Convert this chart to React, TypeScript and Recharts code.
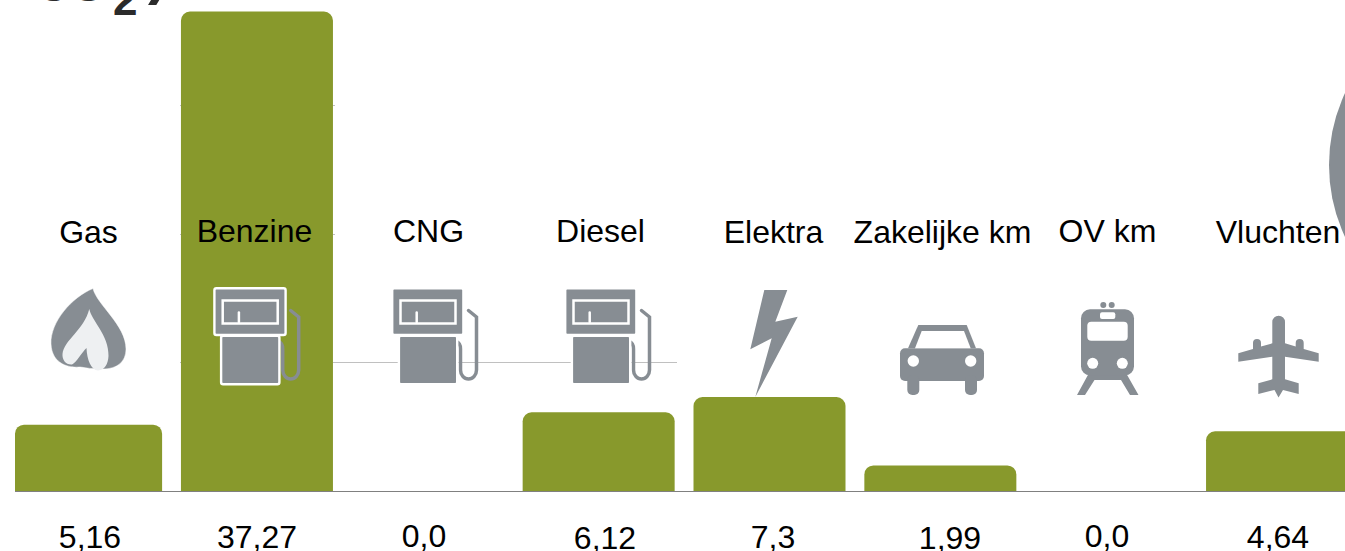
import React from "react";
import { BarChart, Bar, XAxis, YAxis, LabelList, ReferenceLine, Rectangle } from "recharts";

const categories = ["Gas", "Benzine", "CNG", "Diesel", "Elektra", "Zakelijke km", "OV km", "Vluchten"];
const co2Values = [5.16, 37.27, 0.0, 6.12, 7.3, 1.99, 0.0, 4.64];
const valueLabels = ["5,16", "37,27", "0,0", "6,12", "7,3", "1,99", "0,0", "4,64"];
const gridValues = [10, 20, 30];

const data = categories.map((name, i) => ({ name, co2: co2Values[i], label: valueLabels[i], idx: i }));

// Hand-placed text in the source picture: absolute centre and baseline of every caption
const nameX = [88.5, 254.5, 428.5, 600.5, 773.5, 942.5, 1107.5, 1278];
const nameY = [243, 242, 242, 242, 243, 243, 242, 243];
const valX = [90, 257, 424, 605, 773, 950, 1107, 1278];
const valY = [548, 548, 547, 549, 548, 549, 547, 548];
// The grid shows only beside the tall bar and up to the Diesel icon
const gridSegments = [
  [[180, 181], [333, 677]],
  [[180, 181], [333, 335]],
  [[180, 181], [333, 335]],
];

const BAR = "#88992c";
const GREY = "#878d93";
const FONT = "'Liberation Sans', Arial, sans-serif";

const Pump = ({ dx }: { dx: number }) => (
  <g transform={`translate(${dx} 0)`}>
    <path d="M468.5 310.5 L476.5 317 L476.5 370 A8 9 0 0 1 460.5 370 L460.5 349 Q460.5 343 456 341.5" fill="none" stroke={GREY} strokeWidth={3.5} strokeLinecap="round" />
    <rect x={398.9} y={335.7} width={58.3} height={48.5} rx={2} fill={GREY} stroke="#fff" strokeWidth={2.4} />
    <rect x={392.2} y={288.3} width={71.2} height={46.7} rx={2} fill={GREY} stroke="#fff" strokeWidth={2.4} />
    <rect x={400.5} y={300.5} width={55} height={23} fill="none" stroke="#fff" strokeWidth={2.5} />
    <path d="M416.7 312.5 V322" stroke="#fff" strokeWidth={2.5} strokeLinecap="round" />
  </g>
);

const Flame = () => (
  <g>
    <path d="M93 288.5 C97 305 126 325 126 349 C126 362 117 369 103 369 C90 369 88 368 80 367 C70 368 52 365 51 344 C50 322 72 297 93 288.5 Z" fill={GREY} stroke="#fff" strokeWidth={0.5} />
    <path d="M89.3 309 C91 320 109 335 108.5 356 C108 364 105 370 98 370.5 C91 370 87 360 86.5 348 C82 352 77 362 72 364.5 C66 365 62 360 62.5 354 C64 340 84 330 89.3 309 Z" fill="#eef0f2" />
  </g>
);

const Bolt = () => <path d="M764.3 290 L787.3 290 L775.3 321.7 L797.7 316.7 L755.3 397 L771.7 338.3 L750.3 349.3 Z" fill={GREY} />;

const Car = () => (
  <g fill={GREY}>
    <path d="M918.3 325 L966.7 325 L976 348.3 L908 348.3 Z" />
    <rect x={900} y={348.3} width={84} height={32.7} rx={5} />
    <rect x={907.3} y={375} width={12} height={20} rx={5} />
    <rect x={965} y={375} width={12} height={20} rx={5} />
    <path d="M921.7 331 L964 331 L970.7 348.3 L915 348.3 Z" fill="#fff" />
    <circle cx={913.3} cy={361} r={5.7} fill="#fff" />
    <circle cx={970.7} cy={361} r={5.7} fill="#fff" />
  </g>
);

const Train = () => (
  <g fill={GREY}>
    <circle cx={1103.3} cy={305} r={3} />
    <circle cx={1111.7} cy={305} r={3} />
    <path d="M1089 373 L1077 395 L1085 395 L1094.5 380 L1121 380 L1130 395 L1138.5 395 L1126 373 Z" />
    <rect x={1081} y={309.3} width={53} height={66} rx={9} />
    <rect x={1100} y={312.3} width={15.3} height={6.7} rx={2} fill="#fff" />
    <rect x={1087.3} y={321.7} width={40.4} height={19} rx={4} fill="#fff" />
    <circle cx={1092.7} cy={363.3} r={5.5} fill="#fff" />
    <circle cx={1122.3} cy={363.3} r={5.5} fill="#fff" />
  </g>
);

const Plane = () => (
  <g fill={GREY}>
    <path d="M1272.3 322 A6.3 6.3 0 0 1 1285 322 L1285 343.3 L1295.7 346.5 L1295.7 343 A4 4 0 0 1 1303.7 343 L1303.7 349 L1318.7 353.3 L1318.7 361.7 L1285 356.7 L1285 379.3 L1298.7 383.3 L1298.7 394 L1283 390 L1278.5 397.5 L1274.5 390 L1258.3 394 L1258.3 383.3 L1272.3 379.3 L1272.3 356.7 L1238.3 361.7 L1238.3 353.3 L1253 349 L1253 343 A4 4 0 0 1 1261 343 L1261 346.5 L1272.3 343.3 Z" />
  </g>
);

const icons = [<Flame />, <Pump dx={-177.8} />, <Pump dx={0} />, <Pump dx={173} />, <Bolt />, <Car />, <Train />, <Plane />];

const BarShape = (p: any) => {
  if (!p.height) return null;
  const left = Math.max(p.x, 15);
  return <Rectangle x={left} y={p.y} width={p.x + p.width - left} height={p.height} radius={[9, 9, 0, 0]} fill={BAR} />;
};

const NameLabel = (p: any) => (
  <text x={nameX[p.index]} y={nameY[p.index]} textAnchor="middle" fontFamily={FONT} fontSize={32} fill="#000">{p.value}</text>
);
const ValueLabel = (p: any) => (
  <text x={valX[p.index]} y={valY[p.index]} textAnchor="middle" fontFamily={FONT} fontSize={32} fill="#000">{p.value}</text>
);
const IconLabel = (p: any) => icons[p.index];

const GridSeg = (i: number) => (p: any) => {
  const y = Math.round(p.y1) + 0.5;
  return (
    <g>
      {gridSegments[i].map(([a, b]) => (
        <line key={a} x1={a} x2={b} y1={y} y2={y} stroke="#c0c0c0" strokeWidth={1} />
      ))}
    </g>
  );
};

export default function App() {
  return (
    <div style={{ position: "absolute", left: 0, top: 0, width: 1345, height: 551, overflow: "hidden", background: "#fff" }}>
      <BarChart width={1400} height={551} data={data} margin={{ top: 2.2, left: 15, right: 32.1, bottom: 30 }} barSize={152}>
        <circle cx={1499} cy={165} r={170} fill={GREY} />
        <text fontFamily={FONT} fontWeight={700} fill="#2b2b2b">
          <tspan x={35} y={1.2} fontSize={48}>CO</tspan>
          <tspan x={113} y={15} fontSize={44}>2</tspan>
          <tspan x={148} y={-7} fontSize={60}>)</tspan>
        </text>
        <YAxis hide domain={[0, 38]} />
        <XAxis dataKey="name" padding={{ left: -13.9, right: 0 }} tick={false} tickLine={false} axisLine={{ stroke: "#808080", strokeWidth: 1, transform: "translate(0 0.5)" }} height={30} />
        {gridValues.map((v, i) => (
          <ReferenceLine key={v} y={v} shape={GridSeg(i)} />
        ))}
        <Bar dataKey="co2" isAnimationActive={false} shape={BarShape}>
          <LabelList dataKey="name" content={IconLabel} />
          <LabelList dataKey="name" content={NameLabel} />
          <LabelList dataKey="label" content={ValueLabel} />
        </Bar>
      </BarChart>
    </div>
  );
}
